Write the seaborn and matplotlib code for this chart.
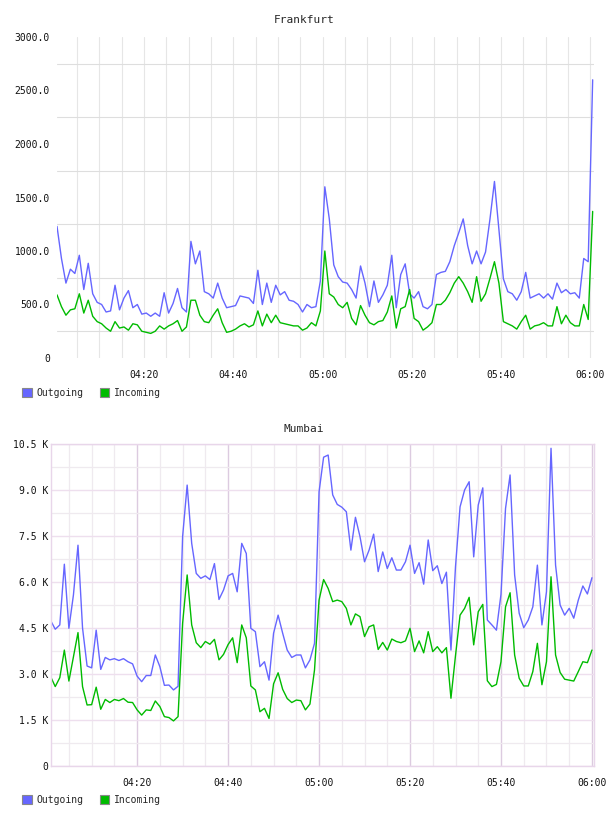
import pandas as pd
import matplotlib
matplotlib.use("Agg")
import matplotlib.pyplot as plt
import matplotlib.dates as mdates
from matplotlib.patches import Patch
import seaborn as sns

# --- datos (un punto por minuto) ---
FRANKFURT_START = "2024-01-01 04:00:30"
MUMBAI_START = "2024-01-01 04:01:00"

frankfurt_out = [1230, 930, 700, 830, 790, 960, 640, 885, 600, 520,
                 500, 430, 440, 680, 450, 560, 630, 470, 500, 410,
                 420, 390, 420, 390, 610, 420, 510, 650, 470, 430,
                 1090, 880, 1000, 620, 600, 560, 700, 560, 470, 480,
                 490, 580, 570, 560, 510, 820, 500, 700, 520, 680,
                 590, 620, 540, 530, 500, 430, 500, 470, 480, 720,
                 1600, 1300, 870, 760, 710, 700, 640, 560, 860, 700,
                 480, 720, 520, 590, 680, 960, 470, 780, 880, 600,
                 560, 620, 480, 460, 500, 780, 800, 810, 900, 1050,
                 1170, 1300, 1050, 880, 1000, 880, 990, 1300, 1650, 1200,
                 740, 620, 600, 540, 620, 800, 560, 580, 600, 560,
                 600, 550, 700, 610, 640, 600, 610, 560, 930, 900,
                 2600]
frankfurt_in = [590, 480, 400, 450, 460, 600, 420, 540, 390, 340,
                320, 280, 250, 340, 280, 290, 260, 320, 310, 250,
                240, 230, 250, 300, 270, 300, 320, 350, 250, 290,
                540, 540, 400, 340, 330, 400, 460, 330, 240, 250,
                270, 300, 320, 290, 310, 440, 300, 410, 330, 400,
                330, 320, 310, 300, 300, 260, 280, 330, 300, 440,
                1000, 600, 570, 500, 470, 520, 370, 310, 490, 400,
                330, 310, 340, 350, 430, 580, 280, 460, 480, 640,
                370, 340, 260, 290, 330, 500, 500, 540, 610, 700,
                760, 700, 620, 520, 760, 530, 600, 745, 900, 700,
                340, 320, 300, 270, 340, 400, 270, 300, 310, 330,
                300, 300, 480, 320, 400, 330, 300, 300, 500, 360,
                1370]

# Mumbai en miles (K)
mumbai_out_k = [4.74, 4.46, 4.60, 6.58, 4.49, 5.58, 7.20, 4.50, 3.26, 3.20,
                4.43, 3.15, 3.54, 3.46, 3.50, 3.44, 3.50, 3.40, 3.33, 2.93,
                2.75, 2.95, 2.95, 3.62, 3.24, 2.63, 2.64, 2.48, 2.60, 7.48,
                9.16, 7.26, 6.28, 6.12, 6.20, 6.08, 6.60, 5.43, 5.74, 6.20,
                6.28, 5.68, 7.26, 6.93, 4.49, 4.38, 3.24, 3.40, 2.80, 4.33,
                4.92, 4.33, 3.78, 3.54, 3.62, 3.62, 3.20, 3.46, 4.00, 8.94,
                10.07, 10.14, 8.84, 8.53, 8.44, 8.29, 7.04, 8.11, 7.48, 6.66,
                7.04, 7.56, 6.34, 6.98, 6.44, 6.79, 6.39, 6.39, 6.66, 7.20,
                6.28, 6.63, 5.93, 7.37, 6.37, 6.53, 5.95, 6.32, 3.78, 6.50,
                8.45, 9.00, 9.27, 6.82, 8.51, 9.07, 4.76, 4.60, 4.43, 5.60,
                8.40, 9.49, 6.23, 4.98, 4.51, 4.76, 5.19, 6.55, 4.60, 5.68,
                10.36, 6.55, 5.25, 4.92, 5.14, 4.82, 5.41, 5.87, 5.61, 6.14]
mumbai_in_k = [2.91, 2.59, 2.88, 3.78, 2.77, 3.56, 4.35, 2.59, 1.99, 2.00,
               2.57, 1.85, 2.17, 2.07, 2.17, 2.13, 2.20, 2.08, 2.07, 1.83,
               1.66, 1.83, 1.81, 2.12, 1.94, 1.61, 1.58, 1.47, 1.61, 4.65,
               6.23, 4.60, 4.02, 3.86, 4.06, 3.97, 4.13, 3.46, 3.64, 3.96,
               4.18, 3.37, 4.60, 4.18, 2.61, 2.48, 1.77, 1.88, 1.55, 2.68,
               3.04, 2.50, 2.20, 2.07, 2.15, 2.13, 1.83, 2.02, 3.13, 5.41,
               6.08, 5.79, 5.36, 5.41, 5.36, 5.14, 4.60, 4.96, 4.87, 4.22,
               4.54, 4.60, 3.80, 4.03, 3.78, 4.14, 4.06, 4.02, 4.08, 4.49,
               3.73, 4.08, 3.69, 4.38, 3.73, 3.89, 3.69, 3.86, 2.21, 3.60,
               4.92, 5.14, 5.50, 3.95, 5.03, 5.27, 2.78, 2.59, 2.66, 3.40,
               5.19, 5.65, 3.62, 2.86, 2.61, 2.61, 3.08, 4.00, 2.65, 3.40,
               6.17, 3.62, 3.05, 2.83, 2.80, 2.77, 3.08, 3.40, 3.37, 3.78]

SERIES = ["Outgoing", "Incoming"]
COLORS = {"Outgoing": "#6666ff", "Incoming": "#00bb00"}

frankfurt_yticks = [0, 500, 1000, 1500, 2000, 2500, 3000]
frankfurt_ylabels = ["0", "500.0", "1000.0", "1500.0", "2000.0", "2500.0", "3000.0"]
mumbai_yticks = [0, 1500, 3000, 4500, 6000, 7500, 9000, 10500]
mumbai_ylabels = ["0", "1.5 K", "3.0 K", "4.5 K", "6.0 K", "7.5 K", "9.0 K", "10.5 K"]


def armar_df(start, out_vals, in_vals):
    t = pd.date_range(start, periods=len(out_vals), freq="1min")
    return pd.concat([
        pd.DataFrame({"hora": t, "valor": out_vals, "serie": "Outgoing"}),
        pd.DataFrame({"hora": t, "valor": in_vals, "serie": "Incoming"}),
    ])


df_fra = armar_df(FRANKFURT_START, frankfurt_out, frankfurt_in)
df_mum = armar_df(MUMBAI_START, [v * 1000 for v in mumbai_out_k],
                  [v * 1000 for v in mumbai_in_k])

sns.set_style("white")
plt.rcParams["font.family"] = ["DejaVu Sans Mono"]

W, H = 608, 816
fig = plt.figure(figsize=(W / 100, H / 100), dpi=100)
base = pd.Timestamp("2024-01-01 04:00")


def comun(ax, df):
    sns.lineplot(data=df, x="hora", y="valor", hue="serie", hue_order=SERIES,
                 palette=COLORS, linewidth=1.0, legend=False, ax=ax)
    ax.set_xlabel("")
    ax.set_ylabel("")
    ax.xaxis.set_major_locator(mdates.MinuteLocator(byminute=[0, 20, 40]))
    ax.xaxis.set_minor_locator(mdates.MinuteLocator(byminute=range(0, 60, 5)))
    ax.xaxis.set_major_formatter(mdates.DateFormatter("%H:%M"))
    ax.tick_params(which="both", length=0, labelsize=7, colors="#111111")


def leyenda(y_px):
    handles = [Patch(facecolor=COLORS[s], edgecolor="#888888", linewidth=0.8, label=s)
               for s in SERIES]
    fig.legend(handles=handles, loc="center left",
               bbox_to_anchor=(22 / W, 1 - y_px / H), ncol=2, frameon=False,
               fontsize=7, handlelength=1.0, handleheight=1.0,
               handletextpad=0.45, columnspacing=1.7, borderpad=0, borderaxespad=0)


# --- Frankfurt ---
ax1 = fig.add_axes([57 / W, 1 - 358 / H, 537 / W, 321 / H])
comun(ax1, df_fra)
ax1.set_xlim(base + pd.Timedelta(minutes=0.5), base + pd.Timedelta(minutes=120.8))
ax1.set_ylim(0, 3000)
ax1.set_yticks(frankfurt_yticks)
ax1.set_yticklabels(frankfurt_ylabels)
ax1.set_yticks(range(250, 3000, 500), minor=True)
ax1.grid(which="both", axis="x", color="#e6e6e6", linewidth=0.8)
ax1.grid(which="minor", axis="y", color="#dedede", linewidth=0.8)
ax1.grid(which="major", axis="y", visible=False)
ax1.set_axisbelow(True)
for s in ax1.spines.values():
    s.set_visible(False)
ax1.tick_params(axis="y", pad=5)
ax1.tick_params(axis="x", pad=9)
fig.text(304 / W, 1 - 20 / H, "Frankfurt", ha="center", va="center", fontsize=8)
leyenda(393)

# --- Mumbai ---
ax2 = fig.add_axes([50.7 / W, 1 - 766 / H, 543.3 / W, 322 / H])
comun(ax2, df_mum)
ax2.set_xlim(base + pd.Timedelta(minutes=1.0), base + pd.Timedelta(minutes=120.45))
ax2.set_ylim(0, 10500)
ax2.set_yticks(mumbai_yticks)
ax2.set_yticklabels(mumbai_ylabels)
ax2.set_yticks(range(750, 10500, 1500), minor=True)
ax2.grid(which="major", axis="x", color="#dccbe0", linewidth=1.0)
ax2.grid(which="major", axis="y", color="#eedfee", linewidth=1.0)
ax2.grid(which="minor", axis="both", color="#efeaef", linewidth=0.9)
ax2.set_axisbelow(True)
for s in ax2.spines.values():
    s.set_color("#e8d6ea")
    s.set_linewidth(1.0)
ax2.tick_params(axis="y", pad=1.5)
ax2.tick_params(axis="x", pad=9)
fig.text(304 / W, 1 - 429 / H, "Mumbai", ha="center", va="center", fontsize=8)
leyenda(800)

fig.savefig("out.png", dpi=100)
